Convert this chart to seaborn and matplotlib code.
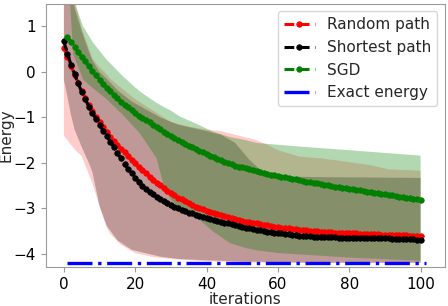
import matplotlib
matplotlib.use("Agg")
import matplotlib.pyplot as plt
import seaborn as sns

# iterations for each curve
iters = list(range(0, 101))
iters_sgd = list(range(1, 101))

random_path = [
    0.53, 0.33, 0.13, -0.06, -0.24, -0.41, -0.57, -0.72, -0.86, -0.99,
    -1.11, -1.22, -1.32, -1.42, -1.51, -1.60, -1.69, -1.77, -1.85, -1.93,
    -2.01, -2.09, -2.16, -2.23, -2.30, -2.37, -2.43, -2.49, -2.55, -2.61,
    -2.66, -2.71, -2.76, -2.80, -2.84, -2.88, -2.92, -2.96, -2.99, -3.02,
    -3.05, -3.08, -3.10, -3.13, -3.15, -3.17, -3.19, -3.21, -3.23, -3.25,
    -3.27, -3.29, -3.30, -3.32, -3.33, -3.35, -3.36, -3.37, -3.38, -3.40,
    -3.41, -3.42, -3.43, -3.44, -3.45, -3.46, -3.47, -3.47, -3.48, -3.49,
    -3.50, -3.50, -3.51, -3.51, -3.52, -3.52, -3.53, -3.53, -3.54, -3.54,
    -3.55, -3.55, -3.55, -3.56, -3.56, -3.56, -3.57, -3.57, -3.57, -3.58,
    -3.58, -3.58, -3.58, -3.59, -3.59, -3.59, -3.59, -3.60, -3.60, -3.60,
    -3.60,
]

shortest_path = [
    0.67, 0.40, 0.16, -0.05, -0.25, -0.44, -0.60, -0.76, -0.90, -1.04,
    -1.17, -1.29, -1.41, -1.53, -1.65, -1.78, -1.90, -2.02, -2.13, -2.23,
    -2.33, -2.42, -2.50, -2.57, -2.63, -2.69, -2.74, -2.79, -2.84, -2.88,
    -2.92, -2.96, -2.99, -3.03, -3.06, -3.09, -3.11, -3.14, -3.16, -3.18,
    -3.21, -3.23, -3.25, -3.27, -3.29, -3.31, -3.33, -3.35, -3.37, -3.39,
    -3.41, -3.43, -3.44, -3.46, -3.47, -3.48, -3.50, -3.51, -3.52, -3.53,
    -3.54, -3.55, -3.56, -3.57, -3.58, -3.59, -3.60, -3.60, -3.61, -3.61,
    -3.62, -3.62, -3.62, -3.63, -3.63, -3.63, -3.63, -3.64, -3.64, -3.64,
    -3.64, -3.65, -3.65, -3.65, -3.65, -3.65, -3.66, -3.66, -3.66, -3.66,
    -3.66, -3.66, -3.67, -3.67, -3.67, -3.67, -3.68, -3.68, -3.68, -3.69,
    -3.69,
]

sgd = [
    0.77, 0.66, 0.55, 0.44, 0.33, 0.23, 0.13, 0.03, -0.07, -0.17,
    -0.26, -0.35, -0.43, -0.51, -0.58, -0.65, -0.72, -0.78, -0.84, -0.90,
    -0.96, -1.01, -1.06, -1.11, -1.16, -1.21, -1.26, -1.31, -1.36, -1.41,
    -1.45, -1.50, -1.54, -1.58, -1.62, -1.66, -1.70, -1.73, -1.77, -1.80,
    -1.84, -1.88, -1.91, -1.94, -1.98, -2.01, -2.03, -2.06, -2.08, -2.10,
    -2.12, -2.14, -2.16, -2.18, -2.20, -2.22, -2.24, -2.26, -2.27, -2.29,
    -2.30, -2.31, -2.33, -2.35, -2.36, -2.38, -2.39, -2.41, -2.42, -2.44,
    -2.45, -2.46, -2.48, -2.49, -2.50, -2.52, -2.53, -2.54, -2.55, -2.57,
    -2.58, -2.59, -2.60, -2.62, -2.63, -2.64, -2.65, -2.66, -2.68, -2.69,
    -2.70, -2.71, -2.72, -2.74, -2.75, -2.76, -2.77, -2.79, -2.80, -2.82,
]

# spread bands (sampled along the iterations)
rp_band_x = [0, 2, 3, 5, 8, 10, 12, 13, 16, 20, 25, 30, 35, 40, 44, 50, 54, 57,
             60, 66, 72, 79, 86, 91, 100]
rp_upper = [3.0, 2.0, 1.6, 0.95, 0.3, 0.1, -0.05, -0.15, -0.35, -0.6, -0.85,
            -1.1, -1.2, -1.27, -1.3, -1.42, -1.5, -1.6, -1.72, -1.86, -1.9,
            -1.97, -2.05, -2.14, -2.17]
rp_lower = [-1.4, -1.6, -1.7, -1.85, -2.45, -2.95, -3.42, -3.56, -3.8, -3.98,
            -4.07, -4.11, -4.14, -4.16, -4.17, -4.18, -4.19, -4.19, -4.19,
            -4.2, -4.2, -4.2, -4.2, -4.2, -4.2]

sp_band_x = [0, 1, 2, 3, 5, 7, 8, 10, 12, 15, 19, 27, 32, 40, 44, 48, 52, 55,
             57, 60, 70, 100]
sp_upper = [3.0, 2.4, 1.9, 1.4, 0.9, 0.45, 0.25, 0.0, -0.15, -0.4, -0.65,
            -1.0, -1.16, -1.3, -1.38, -1.56, -1.93, -2.15, -2.26, -2.3, -2.31,
            -2.33]
sp_lower = [-0.17, -0.55, -0.95, -1.27, -1.65, -2.0, -2.2, -2.95, -3.38, -3.7,
            -3.91, -4.06, -4.11, -4.14, -4.15, -4.16, -4.17, -4.17, -4.18,
            -4.18, -4.19, -4.19]

sgd_band_x = [1, 2.6, 5.4, 8.2, 12, 16.6, 21.3, 26, 28, 30, 32.5, 36, 38, 41.7,
              46.5, 51, 54, 60, 66, 80, 100]
sgd_upper = [3.0, 1.6, 1.0, 0.64, 0.27, -0.1, -0.43, -0.68, -0.77, -0.85,
             -0.98, -1.1, -1.17, -1.31, -1.43, -1.5, -1.56, -1.6, -1.64, -1.72,
             -1.84]
sgd_lower = [2.5, 0.4, -0.17, -0.36, -0.6, -0.95, -1.35, -1.9, -2.5, -2.8,
             -3.0, -3.18, -3.25, -3.5, -3.76, -3.87, -3.92, -3.98, -4.01,
             -4.08, -4.15]

exact_x = [1, 101.6]
exact_energy = [-4.21, -4.21]

sns.set_style("ticks")
plt.rcParams["font.family"] = ["DejaVu Sans"]
plt.rcParams["font.size"] = 11
plt.rcParams["axes.edgecolor"] = "#9a9a9a"
plt.rcParams["xtick.color"] = "#9a9a9a"
plt.rcParams["ytick.color"] = "#9a9a9a"
plt.rcParams["xtick.labelcolor"] = "black"
plt.rcParams["ytick.labelcolor"] = "black"

fig, ax = plt.subplots(figsize=(4.48, 3.06), dpi=100)
fig.subplots_adjust(left=0.102, right=0.993, top=0.988, bottom=0.127)

ax.fill_between(rp_band_x, rp_lower, rp_upper, color="red", alpha=0.2, linewidth=0)
ax.fill_between(sp_band_x, sp_lower, sp_upper, color="black", alpha=0.25, linewidth=0)
ax.fill_between(sgd_band_x, sgd_lower, sgd_upper, color="green", alpha=0.3, linewidth=0)

line_kw = dict(marker="o", markersize=4, markeredgewidth=0.5, linewidth=2.2)
series = [
    (iters, random_path, "red", "Random path"),
    (iters, shortest_path, "black", "Shortest path"),
    (iters_sgd, sgd, "green", "SGD"),
]
for xs, ys, col, name in series:
    sns.lineplot(x=xs, y=ys, ax=ax, color=col, markeredgecolor=col, markerfacecolor=col,
                 label=name, **line_kw)
    # seaborn resets the dash pattern, so set it on the drawn line
    ax.lines[-1].set_linestyle((0, (3.2, 1.8)))
ax.plot(exact_x, exact_energy, color="blue", linewidth=2.4, dashes=(7.5, 1.7, 1, 1.7),
        label="Exact energy")

ax.set_xlim(-5.1, 106.8)
ax.set_ylim(-4.29, 1.5)
ax.set_xticks([0, 20, 40, 60, 80, 100])
ax.set_yticks([-4, -3, -2, -1, 0, 1])
ax.set_xlabel("iterations", labelpad=0)
ax.set_ylabel("Energy", labelpad=0)
ax.legend(loc="upper right", fontsize=11)

plt.savefig("out.png", dpi=100)
